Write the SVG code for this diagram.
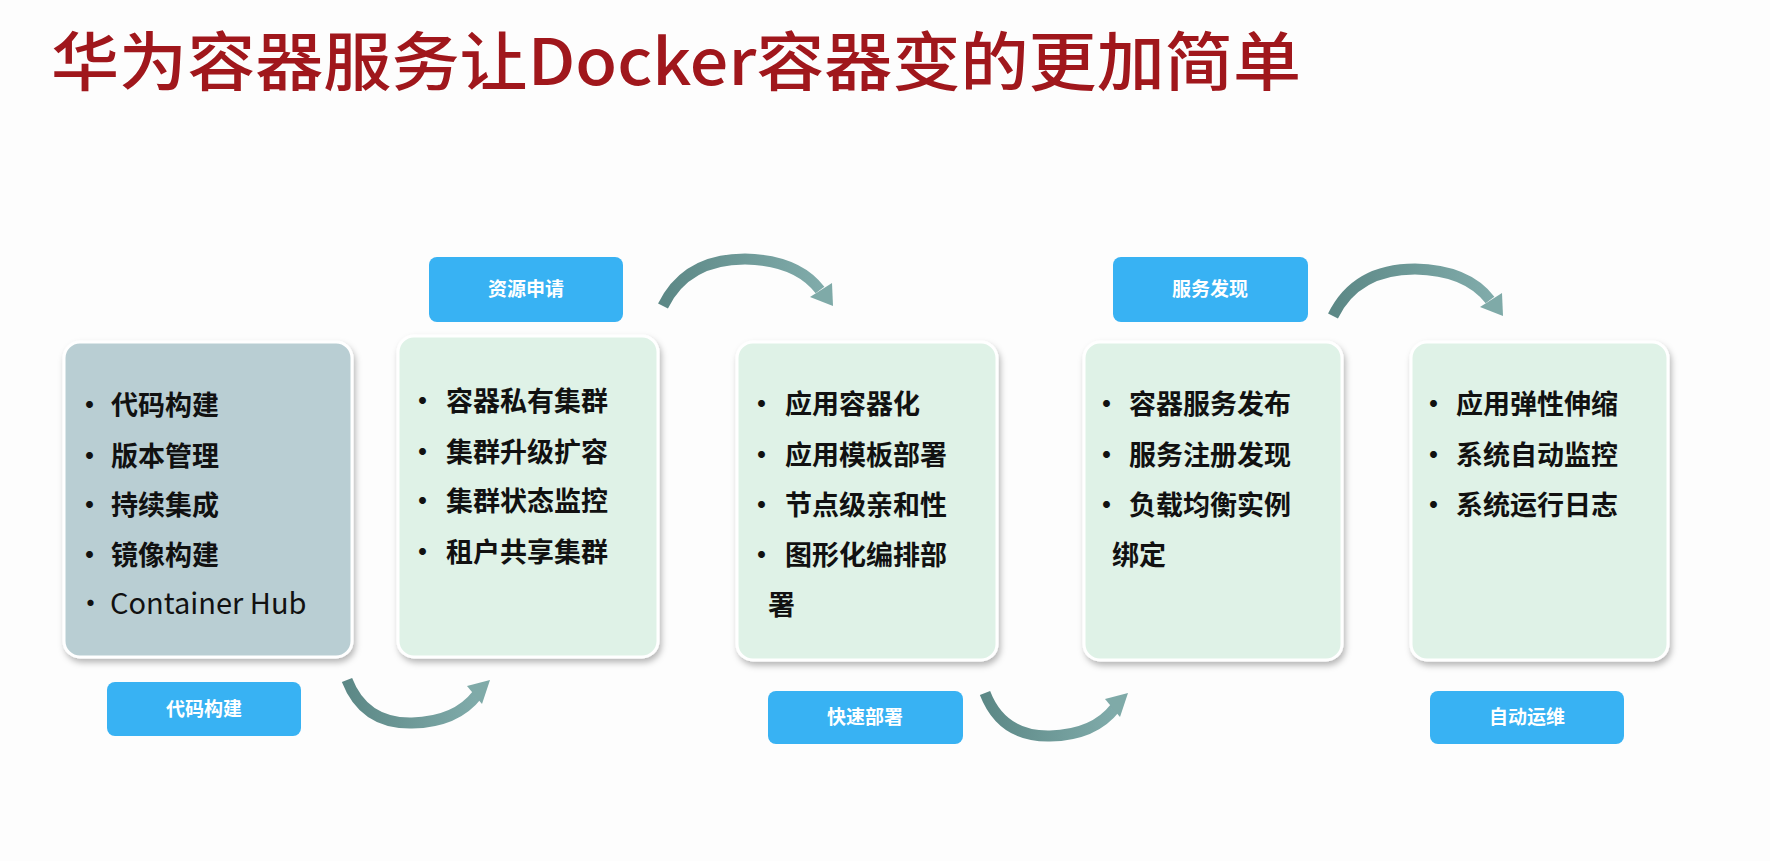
<svg xmlns="http://www.w3.org/2000/svg" width="1770" height="861" viewBox="0 0 1770 861">
<defs>
<style>
.title{font-family:"Noto Sans CJK SC","Liberation Sans",sans-serif;font-size:64px;fill:#a0171c;font-weight:500}
.item{font-family:"Noto Sans CJK SC","Liberation Sans",sans-serif;font-size:27px;fill:#111;font-weight:700}
.hub{font-weight:400;font-size:29px}
.lbl{font-family:"Noto Sans CJK SC",sans-serif;font-size:19px;fill:#fff;font-weight:700;text-anchor:middle}
.box{stroke:#fff;stroke-width:3;filter:url(#sh)}
.b1{fill:#b9ced3}
.b2{fill:#dff2e7}
.btn{fill:#38b2f3}
.arc{fill:none;stroke:url(#ag);stroke-width:11;stroke-linecap:butt}
.head{fill:#7faaa8}
</style>
<filter id="sh" x="-10%" y="-10%" width="125%" height="125%">
<feDropShadow dx="2" dy="4" stdDeviation="3" flood-color="#000" flood-opacity="0.28"/>
</filter>
<linearGradient id="ag" x1="0" y1="0" x2="1" y2="0">
<stop offset="0" stop-color="#5c8886"/>
<stop offset="1" stop-color="#80abaa"/>
</linearGradient>
</defs>
<rect width="1770" height="861" fill="#fdfdfd"/>
<text class="title" x="51" y="85" textLength="1250" lengthAdjust="spacingAndGlyphs">华为容器服务让Docker容器变的更加简单</text>

<g id="connectors">
<path class="arc" d="M663 306 Q686 259 745 259 Q797 260 820 290"/>
<polygon class="head" points="833,306 832,283 810,297"/>
<path class="arc" d="M1333 316 Q1356 269 1415 269 Q1467 270 1490 300"/>
<polygon class="head" points="1503,316 1502,293 1480,307"/>
<path class="arc" d="M347 680 Q364 724 412 723 Q456 722 477 695"/>
<polygon class="head" points="490,680 467,686 482,704"/>
<path class="arc" d="M985 693 Q1002 737 1050 736 Q1094 735 1115 708"/>
<polygon class="head" points="1128,693 1105,699 1120,717"/>
</g>

<g id="box1">
<rect class="box b1" x="64" y="342" width="288" height="315" rx="16"/>
<text class="item"><tspan x="76" y="415">•</tspan><tspan x="111" y="415">代码构建</tspan></text>
<text class="item"><tspan x="76" y="466">•</tspan><tspan x="111" y="466">版本管理</tspan></text>
<text class="item"><tspan x="76" y="515">•</tspan><tspan x="111" y="515">持续集成</tspan></text>
<text class="item"><tspan x="76" y="565">•</tspan><tspan x="111" y="565">镜像构建</tspan></text>
<text class="item hub"><tspan x="76" y="614">•</tspan><tspan x="110" y="614">Container Hub</tspan></text>
</g>

<g id="box2">
<rect class="box b2" x="398" y="336" width="260" height="321" rx="16"/>
<text class="item"><tspan x="409" y="411">•</tspan><tspan x="446" y="411">容器私有集群</tspan></text>
<text class="item"><tspan x="409" y="462">•</tspan><tspan x="446" y="462">集群升级扩容</tspan></text>
<text class="item"><tspan x="409" y="511">•</tspan><tspan x="446" y="511">集群状态监控</tspan></text>
<text class="item"><tspan x="409" y="562">•</tspan><tspan x="446" y="562">租户共享集群</tspan></text>
</g>

<g id="box3">
<rect class="box b2" x="737" y="342" width="260" height="318" rx="16"/>
<text class="item"><tspan x="748" y="414">•</tspan><tspan x="785" y="414">应用容器化</tspan></text>
<text class="item"><tspan x="748" y="465">•</tspan><tspan x="785" y="465">应用模板部署</tspan></text>
<text class="item"><tspan x="748" y="515">•</tspan><tspan x="785" y="515">节点级亲和性</tspan></text>
<text class="item"><tspan x="748" y="565">•</tspan><tspan x="785" y="565">图形化编排部</tspan></text>
<text class="item" x="768" y="615">署</text>
</g>

<g id="box4">
<rect class="box b2" x="1084" y="342" width="258" height="318" rx="16"/>
<text class="item"><tspan x="1093" y="414">•</tspan><tspan x="1129" y="414">容器服务发布</tspan></text>
<text class="item"><tspan x="1093" y="465">•</tspan><tspan x="1129" y="465">服务注册发现</tspan></text>
<text class="item"><tspan x="1093" y="515">•</tspan><tspan x="1129" y="515">负载均衡实例</tspan></text>
<text class="item" x="1112" y="565">绑定</text>
</g>

<g id="box5">
<rect class="box b2" x="1411" y="342" width="257" height="318" rx="16"/>
<text class="item"><tspan x="1420" y="414">•</tspan><tspan x="1456" y="414">应用弹性伸缩</tspan></text>
<text class="item"><tspan x="1420" y="465">•</tspan><tspan x="1456" y="465">系统自动监控</tspan></text>
<text class="item"><tspan x="1420" y="515">•</tspan><tspan x="1456" y="515">系统运行日志</tspan></text>
</g>

<g id="label-ziyuan">
<rect class="btn" x="429" y="257" width="194" height="65" rx="8"/>
<text class="lbl" x="526" y="296">资源申请</text>
</g>
<g id="label-fuwu">
<rect class="btn" x="1113" y="257" width="195" height="65" rx="8"/>
<text class="lbl" x="1210" y="296">服务发现</text>
</g>
<g id="label-daima">
<rect class="btn" x="107" y="682" width="194" height="54" rx="8"/>
<text class="lbl" x="204" y="716">代码构建</text>
</g>
<g id="label-kuaisu">
<rect class="btn" x="768" y="691" width="195" height="53" rx="8"/>
<text class="lbl" x="865" y="724">快速部署</text>
</g>
<g id="label-zidong">
<rect class="btn" x="1430" y="691" width="194" height="53" rx="8"/>
<text class="lbl" x="1527" y="724">自动运维</text>
</g>
</svg>
